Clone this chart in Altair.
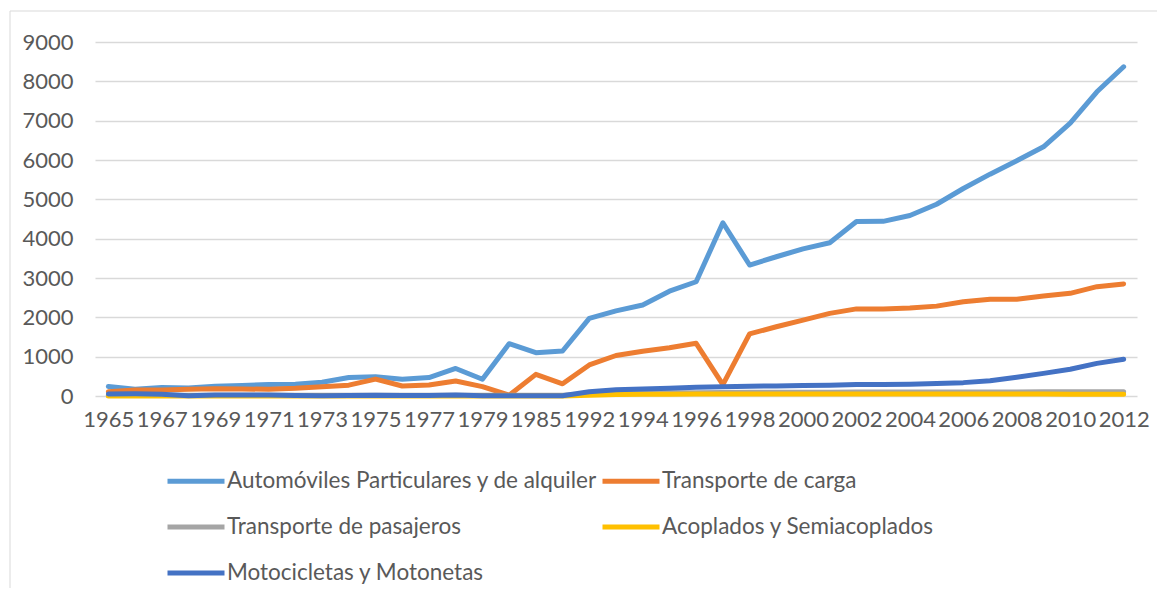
import altair as alt
import pandas as pd

years = [str(y) for y in range(1965, 1980)] + ["1980", "1985", "1990"] + [str(y) for y in range(1992, 2013)]
shown_years = [str(y) for y in range(1965, 1980, 2)] + ["1985"] + [str(y) for y in range(1992, 2013, 2)]

series_names = [
    "Automóviles Particulares y de alquiler",
    "Transporte de carga",
    "Transporte de pasajeros",
    "Acoplados y Semiacoplados",
    "Motocicletas y Motonetas",
]
series_colors = ["#5B9BD5", "#ED7D31", "#A5A5A5", "#FFC000", "#4472C4"]

automoviles = [240, 170, 215, 205, 250, 265, 295, 300, 350, 470, 490, 425, 470, 700, 425,
               1330, 1100, 1145,
               1975, 2165, 2315, 2665, 2905, 4405, 3330, 3540, 3740, 3895, 4435, 4440, 4590,
               4875, 5275, 5640, 5980, 6335, 6935, 7735, 8370]
carga = [110, 150, 155, 170, 185, 180, 170, 195, 237, 275, 430, 255, 280, 380, 237,
         20, 550, 310,
         790, 1030, 1140, 1225, 1340, 290, 1580, 1760, 1930, 2100, 2215, 2215, 2235,
         2285, 2395, 2460, 2460, 2540, 2610, 2780, 2850]
pasajeros = [20, 20, 20, 20, 20, 20, 20, 20, 20, 20, 20, 20, 20, 20, 20,
             20, 20, 20,
             60, 70, 75, 80, 85, 90, 95, 95, 95, 95, 100, 100, 100,
             100, 100, 100, 100, 105, 105, 105, 105]
acoplados = [0, 0, 0, 0, 0, 0, 0, 0, 0, 0, 0, 0, 0, 0, 0,
             0, 0, 0,
             20, 40, 45, 45, 50, 50, 50, 50, 50, 50, 50, 50, 50,
             50, 50, 50, 50, 50, 45, 45, 45]
motos = [50, 55, 45, 5, 25, 25, 25, 15, 5, 10, 20, 10, 10, 25, 5,
         5, 5, 5,
         110, 160, 180, 200, 220, 235, 250, 255, 270, 275, 290, 295, 300,
         320, 340, 390, 475, 575, 680, 830, 935]

all_values = [automoviles, carga, pasajeros, acoplados, motos]
rows = []
for name, vals in zip(series_names, all_values):
    for yr, v in zip(years, vals):
        rows.append({"year": yr, "serie": name, "valor": v})
df = pd.DataFrame(rows)

FONT = "Lato"
LABEL_COLOR = "#595959"

color = alt.Color(
    "serie:N",
    scale=alt.Scale(domain=series_names, range=series_colors),
    sort=series_names,
    legend=alt.Legend(
        title=None,
        orient="none",
        direction="horizontal",
        legendX=70,
        legendY=408,
        columns=2,
        symbolType="stroke",
        symbolSize=3249,
        symbolStrokeWidth=5,
        labelFont=FONT,
        labelFontSize=22.5,
        labelColor=LABEL_COLOR,
        labelOffset=0,
        columnPadding=-6,
        rowPadding=3,
        labelLimit=600,
    ),
)

x = alt.X(
    "year:O",
    sort=years,
    scale=alt.Scale(padding=0.5),
    title=None,
    axis=alt.Axis(
        values=shown_years,
        labelAngle=0,
        ticks=False,
        domain=False,
        grid=False,
        labelFont=FONT,
        labelFontSize=22,
        labelColor=LABEL_COLOR,
        labelPadding=13,
    ),
)
y = alt.Y(
    "valor:Q",
    scale=alt.Scale(domain=[0, 9000], nice=False),
    title=None,
    axis=alt.Axis(
        values=list(range(0, 9001, 1000)),
        format="d",
        ticks=False,
        domain=False,
        grid=True,
        gridColor="#D9D9D9",
        gridWidth=1.3,
        labelFont=FONT,
        labelFontSize=22,
        labelColor=LABEL_COLOR,
        labelPadding=22,
    ),
)

layers = []
border = alt.Chart(pd.DataFrame({"a": [0]})).mark_rect(
    fillOpacity=0, stroke="#D9D9D9", strokeWidth=1
).encode(
    x=alt.value(-85), x2=alt.value(1200), y=alt.value(-31), y2=alt.value(700)
)
layers.append(border)
for name in series_names:
    layers.append(
        alt.Chart(df)
        .transform_filter(alt.datum.serie == name)
        .mark_line(strokeWidth=5, strokeCap="round", strokeJoin="round")
        .encode(x=x, y=y, color=color)
    )

chart = (
    alt.layer(*layers)
    .properties(
        width=1042,
        height=354,
        autosize=alt.AutoSizeParams(type="none"),
        padding={"left": 87, "top": 34, "right": 20, "bottom": 192},
        background="white",
    )
    .configure_view(stroke=None)
)

chart.save("out.html", embed_options={"renderer": "svg", "actions": False})
